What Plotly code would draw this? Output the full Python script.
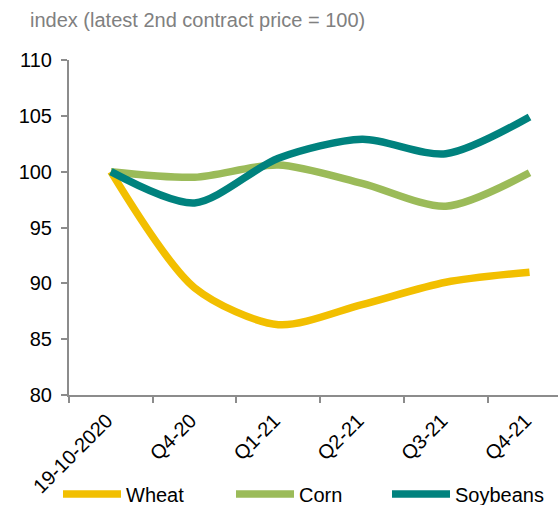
import plotly.graph_objects as go

categories = ["19-10-2020", "Q4-20", "Q1-21", "Q2-21", "Q3-21", "Q4-21"]
wheat = [100, 89.6, 86.3, 88.1, 90.1, 91.0]
corn = [100, 99.5, 100.6, 98.95, 96.9, 99.9]
soybeans = [100, 97.2, 101.2, 102.9, 101.6, 104.9]
y_ticks = [80, 85, 90, 95, 100, 105, 110]

series = [("Wheat", wheat, "#F2BF00", "legend", 58),
          ("Corn", corn, "#9BBB59", "legend2", 231),
          ("Soybeans", soybeans, "#00827E", "legend3", 387)]
font_family = "Liberation Sans, Arial, sans-serif"

fig = go.Figure()
legends = {}
for name, vals, color, lg, lx in series:
    fig.add_trace(go.Scatter(
        x=categories, y=vals, name=name, mode="lines", legend=lg,
        line=dict(color=color, width=7.5, shape="spline", smoothing=0.8),
    ))
    legends[lg] = dict(orientation="h", xref="container", yref="container",
                       x=lx / 558, y=1 - 494 / 505, xanchor="left", yanchor="middle",
                       itemwidth=58, font=dict(size=20), bgcolor="rgba(0,0,0,0)")

fig.update_layout(
    width=558, height=505,
    margin=dict(l=69, r=0, t=60, b=110, autoexpand=False),
    paper_bgcolor="white", plot_bgcolor="white",
    font=dict(family=font_family, size=20, color="black"),
    showlegend=True,
    annotations=[dict(text="index (latest 2nd contract price = 100)", xref="paper", yref="paper",
                      x=(28 - 69) / 489, y=(395 - 20) / 335, xanchor="left", yanchor="middle",
                      showarrow=False, font=dict(size=20, color="#808080"))],
    **legends,
)
fig.update_xaxes(
    type="category", range=[-0.5, 5.34], tickson="boundaries", automargin=False,
    showline=True, linecolor="#8C8C8C", linewidth=2, ticks="outside", ticklen=6, tickcolor="#8C8C8C",
    tickwidth=2, tickangle=-45, showgrid=False, tickfont=dict(size=20),
    ticklabelshift=-4, ticklabelstandoff=4,
)
fig.update_yaxes(
    range=[80, 110], tickvals=y_ticks, automargin=False, showline=True, linecolor="#8C8C8C", linewidth=2,
    ticks="outside", ticklen=6, tickcolor="#8C8C8C", tickwidth=2, showgrid=False, zeroline=False,
    tickfont=dict(size=20), ticklabelstandoff=5,
)
fig.write_html("out.html", config={"displayModeBar": False},
               post_script="document.body.style.margin='0';document.body.style.overflow='hidden';")
